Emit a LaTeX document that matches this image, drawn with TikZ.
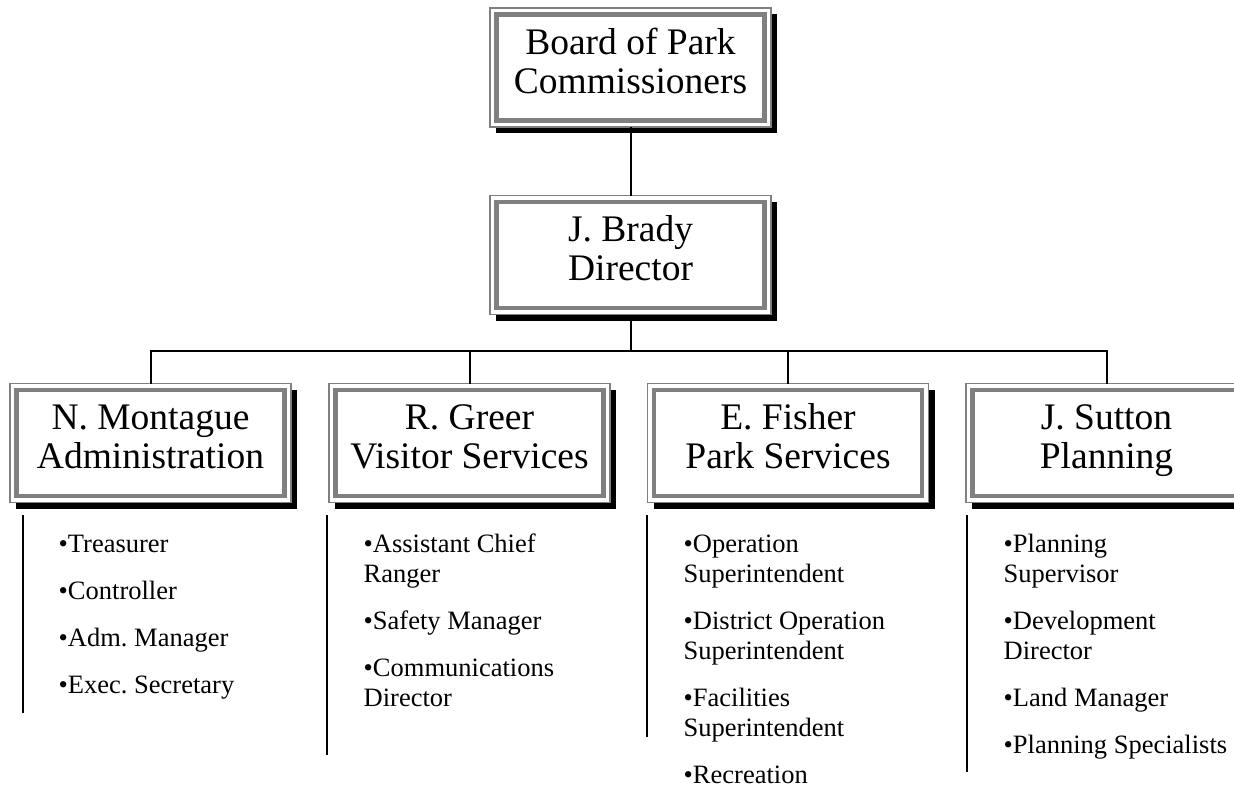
\documentclass[tikz,border=0pt]{standalone}
\usepackage{fontspec}
\setmainfont{Liberation Serif}
\usetikzlibrary{shadows}
\definecolor{bandgray}{RGB}{128,128,128}
\frenchspacing
\begin{document}
\begin{tikzpicture}[x=1pt,y=-1pt,
  orgbox/.style={rectangle, draw=bandgray, line width=1.5pt, fill=white,
    minimum width=281pt, minimum height=119pt, inner sep=0pt, outer sep=0pt,
    drop shadow={shadow xshift=6pt, shadow yshift=-6pt, opacity=1, fill=black},
    path picture={\draw[bandgray, line width=4.5pt]
      ([shift={(6.5,6.5)}]path picture bounding box.north west) rectangle
      ([shift={(-6.5,-6.5)}]path picture bounding box.south east);}},
  boxtext/.style={font=\fontsize{37.5}{39}\selectfont\frenchspacing, inner sep=0pt, anchor=base},
  listtext/.style={font=\fontsize{26.5}{30}\selectfont\frenchspacing, inner sep=0pt, anchor=base west},
  conn/.style={line width=2pt, black},
  sideline/.style={line width=1.5pt, black}]
\useasboundingbox (0,0) rectangle (1234,795);

% boxes
\node[orgbox] (board) at (630.5,67.5) {};
\node[orgbox] (brady) at (630.5,255) {};
\node[orgbox] (mont) at (150.5,443) {};
\node[orgbox] (greer) at (469.5,443) {};
\node[orgbox] (fisher) at (788,443) {};
\node[orgbox] (sutton) at (1106.5,443) {};

% box texts
\node[boxtext] (boardt) at ([yshift=13.5pt]board.center) {\begin{tabular}[t]{@{}c@{}}Board of Park\\Commissioners\end{tabular}};
\node[boxtext] (bradyt) at ([yshift=13.5pt]brady.center) {\begin{tabular}[t]{@{}c@{}}J. Brady\\Director\end{tabular}};
\node[boxtext] (montt) at ([yshift=13.5pt]mont.center) {\begin{tabular}[t]{@{}c@{}}N. Montague\\Administration\end{tabular}};
\node[boxtext] (greert) at ([yshift=13.5pt]greer.center) {\begin{tabular}[t]{@{}c@{}}R. Greer\\Visitor Services\end{tabular}};
\node[boxtext] (fishert) at ([yshift=13.5pt]fisher.center) {\begin{tabular}[t]{@{}c@{}}E. Fisher\\Park Services\end{tabular}};
\node[boxtext] (suttont) at ([yshift=13.5pt]sutton.center) {\begin{tabular}[t]{@{}c@{}}J. Sutton\\Planning\end{tabular}};

% connectors
\coordinate (bus) at (630.5,351);
\draw[conn] (board.south) -- (brady.north);
\draw[conn] (brady.south) -- (bus);
\foreach \c in {mont,greer,fisher,sutton}
  \draw[conn] (bus) -| (\c.north);

% side lines
\coordinate (s1a) at (23,515);  \coordinate (s1b) at (23,713);
\coordinate (s2a) at (327,515); \coordinate (s2b) at (327,755);
\coordinate (s3a) at (647,515); \coordinate (s3b) at (647,737);
\coordinate (s4a) at (967,515); \coordinate (s4b) at (967,772);
\draw[sideline] (s1a) -- (s1b);
\draw[sideline] (s2a) -- (s2b);
\draw[sideline] (s3a) -- (s3b);
\draw[sideline] (s4a) -- (s4b);

% lists
\node[listtext] (list1) at (58.5,552) {\begin{tabular}[t]{@{}l@{}}•Treasurer\\[17pt]•Controller\\[17pt]•Adm. Manager\\[17pt]•Exec. Secretary\end{tabular}};
\node[listtext] (list2) at (363.5,552) {\begin{tabular}[t]{@{}l@{}}•Assistant Chief\\Ranger\\[17pt]•Safety Manager\\[17pt]•Communications\\Director\end{tabular}};
\node[listtext] (list3) at (683.5,552) {\begin{tabular}[t]{@{}l@{}}•Operation\\Superintendent\\[17pt]•District Operation\\Superintendent\\[17pt]•Facilities\\Superintendent\\[17pt]•Recreation\end{tabular}};
\node[listtext] (list4) at (1003.5,552) {\begin{tabular}[t]{@{}l@{}}•Planning\\Supervisor\\[17pt]•Development\\Director\\[17pt]•Land Manager\\[17pt]•Planning Specialists\end{tabular}};
\end{tikzpicture}
\end{document}
